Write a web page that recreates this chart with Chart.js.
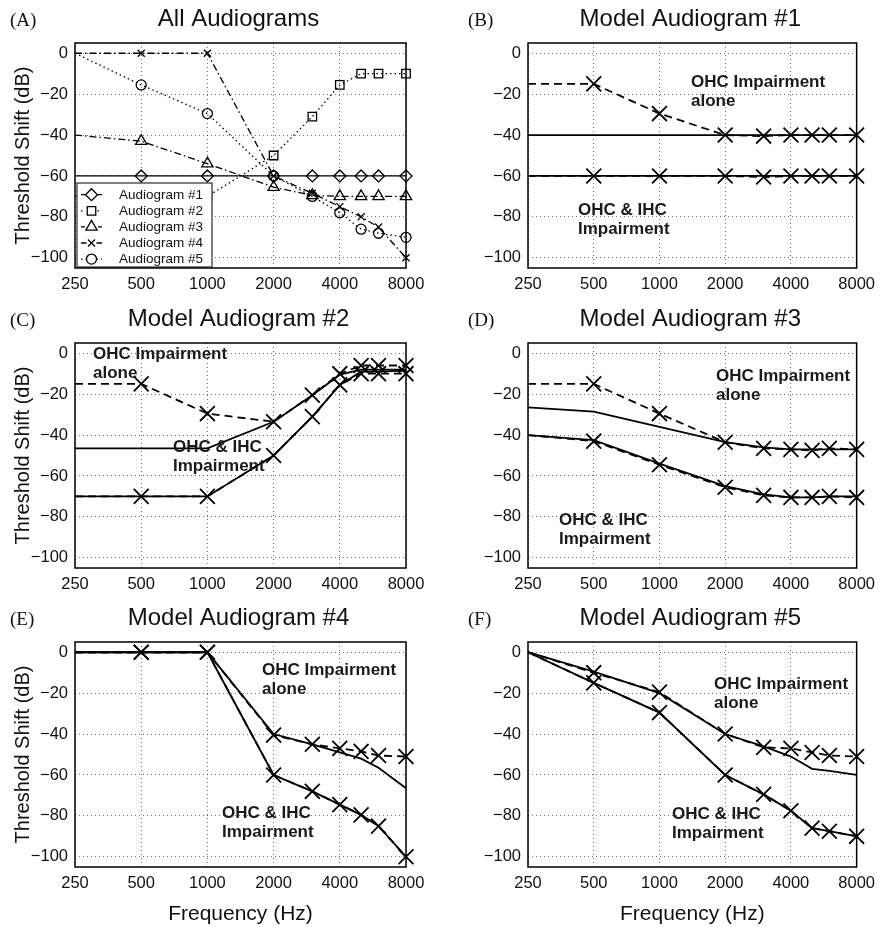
<!DOCTYPE html>
<html>
<head>
<meta charset="utf-8">
<title>Model Audiograms</title>
<script src="https://cdn.jsdelivr.net/npm/chart.js@4.4.1/dist/chart.umd.min.js"></script>
<style>
  html, body { margin: 0; padding: 0; background: #fff; }
  #figure { position: relative; width: 882px; height: 927px; }
  #figure canvas { position: absolute; }
</style>
</head>
<body>
<div id="figure">
  <canvas id="panelA" width="441" height="300" style="left:0;top:0"></canvas>
  <canvas id="panelB" width="441" height="300" style="left:441px;top:0"></canvas>
  <canvas id="panelC" width="441" height="300" style="left:0;top:300px"></canvas>
  <canvas id="panelD" width="441" height="300" style="left:441px;top:300px"></canvas>
  <canvas id="panelE" width="441" height="327" style="left:0;top:600px"></canvas>
  <canvas id="panelF" width="441" height="327" style="left:441px;top:600px"></canvas>
</div>
<script>
const freqs = [250, 500, 1000, 2000, 3000, 4000, 5000, 6000, 8000];
const freqTicks = [250, 500, 1000, 2000, 4000, 8000];
const dbTicks = [-100, -80, -60, -40, -20, 0];

// (A) all audiograms
const audiogram1 = [-60, -60, -60, -60, -60, -60, -60, -60, -60];
const audiogram2 = [-70, -70, -70, -50, -31, -15.5, -10, -10, -10];
const audiogram3 = [-40, -43, -54, -65.5, -69.5, -70, -70, -70, -70];
const audiogram4 = [0, 0, 0, -60, -68.5, -75, -80, -85, -100];
const audiogram5 = [0, -15.5, -29.5, -60, -70, -78, -86, -88, -90];

// (B)-(F) measured (dashed, x) and model (solid) curves
const model1OhcMeasured = [-15, -15, -29.5, -40, -40.5, -40, -40, -40, -40];
const model1OhcFit = [-40, -40, -40, -40, -40, -40, -40, -40, -40];
const model1TotalMeasured = [-60, -60, -60, -60, -60.5, -60, -60, -60, -60];
const model1TotalFit = [-60, -60, -60, -60, -60, -60, -60, -60, -60];

const model2OhcMeasured = [-15, -15, -29.5, -33.5, -20.5, -10, -6, -6, -6];
const model2OhcFit = [-46.5, -46.5, -46.5, -33.5, -20.5, -10.5, -8, -8, -8];
const model2TotalMeasured = [-70, -70, -70, -50, -31, -15.5, -10, -10, -10];
const model2TotalFit = [-70, -70, -70, -50, -31, -15.5, -9, -9, -8.5];

const model3OhcMeasured = [-15, -15, -29.5, -43.5, -46.5, -47, -47.5, -46.5, -47];
const model3OhcFit = [-26.5, -28.5, -36, -43.5, -46, -47, -47, -47, -47];
const model3TotalMeasured = [-40, -43, -54.5, -65.5, -69.5, -70.5, -70.5, -70, -70.5];
const model3TotalFit = [-40, -42.5, -54, -65, -69, -70.5, -70.5, -70, -70];

const model4OhcMeasured = [0, 0, 0, -40.5, -45, -47, -48.5, -50.5, -51];
const model4OhcFit = [0, 0, 0, -40, -45, -49, -52, -56.5, -66.5];
const model4TotalMeasured = [0, 0, 0, -60, -68, -74.5, -79.5, -85, -100];
const model4TotalFit = [0, 0, 0, -60, -68, -74.5, -79.5, -85, -100];

const model5OhcMeasured = [0, -10, -19.5, -40, -46.5, -47, -49, -50.5, -51];
const model5OhcFit = [0, -9.5, -20, -40, -46, -51, -57, -58, -60];
const model5TotalMeasured = [0, -15, -29.5, -60, -69.5, -77.5, -86, -87.5, -90];
const model5TotalFit = [0, -15, -29.5, -60, -69.5, -77.5, -86, -87.5, -90];

const SANS = "'Liberation Sans', Arial, Helvetica, sans-serif";
const SERIF = "'Liberation Serif', 'Times New Roman', serif";
const DASHED = [8, 5];
const DOTTED = [1.5, 3];
const DASHDOT = [7, 3, 1.5, 3];

Chart.defaults.font.family = SANS;
Chart.defaults.color = "#111";

const toPoints = (values) => values.map((v, i) => ({ x: freqs[i], y: v }));
// no marker on the 250 Hz end point
const markerRadii = (r) => freqs.map((f) => (f === 250 ? 0 : r));

function line(values, opts) {
  return {
    label: opts.label || "",
    data: toPoints(values),
    borderColor: "#000",
    borderWidth: opts.width || 1.8,
    borderDash: opts.dash || [],
    pointStyle: opts.style || false,
    pointRadius: opts.style ? markerRadii(opts.radius) : 0,
    pointBorderColor: "#000",
    pointBorderWidth: opts.width || 1.8,
    pointBackgroundColor: "rgba(0,0,0,0)",
    tension: 0,
    fill: false,
    clip: false,
  };
}

function modelSets(ohcMeasured, ohcFit, totalMeasured, totalFit) {
  return [
    line(ohcMeasured, { dash: DASHED, style: "crossRot", radius: 10.5 }),
    line(ohcFit, {}),
    line(totalMeasured, { dash: DASHED, style: "crossRot", radius: 10.5 }),
    line(totalFit, {}),
  ];
}

const panels = {
  panelA: {
    letter: "(A)", title: "All Audiograms", col: 0, row: 0, yTitle: true,
    datasets: [
      line(audiogram1, { label: "Audiogram #1", width: 1.3, style: "rectRot", radius: 6 }),
      line(audiogram2, { label: "Audiogram #2", width: 1.3, dash: DOTTED, style: "rect", radius: 6 }),
      line(audiogram3, { label: "Audiogram #3", width: 1.3, dash: DASHDOT, style: "triangle", radius: 6.5 }),
      line(audiogram4, { label: "Audiogram #4", width: 1.3, dash: DASHDOT, style: "crossRot", radius: 5 }),
      line(audiogram5, { label: "Audiogram #5", width: 1.3, dash: DOTTED, style: "circle", radius: 5 }),
    ],
    legend: true,
    notes: [],
  },
  panelB: {
    letter: "(B)", title: "Model Audiogram #1", col: 1, row: 0,
    datasets: modelSets(model1OhcMeasured, model1OhcFit, model1TotalMeasured, model1TotalFit),
    notes: [
      { dx: 163, dy: 44, lines: ["OHC Impairment", "alone"] },
      { dx: 50, dy: 172, lines: ["OHC & IHC", "Impairment"] },
    ],
  },
  panelC: {
    letter: "(C)", title: "Model Audiogram #2", col: 0, row: 1, yTitle: true,
    datasets: modelSets(model2OhcMeasured, model2OhcFit, model2TotalMeasured, model2TotalFit),
    notes: [
      { dx: 18, dy: 16, lines: ["OHC Impairment", "alone"] },
      { dx: 98, dy: 109, lines: ["OHC & IHC", "Impairment"] },
    ],
  },
  panelD: {
    letter: "(D)", title: "Model Audiogram #3", col: 1, row: 1,
    datasets: modelSets(model3OhcMeasured, model3OhcFit, model3TotalMeasured, model3TotalFit),
    notes: [
      { dx: 188, dy: 38, lines: ["OHC Impairment", "alone"] },
      { dx: 31, dy: 182, lines: ["OHC & IHC", "Impairment"] },
    ],
  },
  panelE: {
    letter: "(E)", title: "Model Audiogram #4", col: 0, row: 2, yTitle: true, xTitle: true,
    datasets: modelSets(model4OhcMeasured, model4OhcFit, model4TotalMeasured, model4TotalFit),
    notes: [
      { dx: 187, dy: 33, lines: ["OHC Impairment", "alone"] },
      { dx: 147, dy: 176, lines: ["OHC & IHC", "Impairment"] },
    ],
  },
  panelF: {
    letter: "(F)", title: "Model Audiogram #5", col: 1, row: 2, xTitle: true,
    datasets: modelSets(model5OhcMeasured, model5OhcFit, model5TotalMeasured, model5TotalFit),
    notes: [
      { dx: 186, dy: 47, lines: ["OHC Impairment", "alone"] },
      { dx: 144, dy: 177, lines: ["OHC & IHC", "Impairment"] },
    ],
  },
};

function drawLegend(chart) {
  const { ctx, chartArea: a } = chart;
  const x0 = a.left + 2, y0 = a.top + 140, w = 135, h = 84;
  ctx.fillStyle = "#fff";
  ctx.fillRect(x0, y0, w, h);
  ctx.lineWidth = 1;
  ctx.strokeStyle = "#000";
  ctx.setLineDash([]);
  ctx.strokeRect(x0, y0, w, h);
  chart.data.datasets.forEach((ds, i) => {
    const y = y0 + 11.7 + i * 16.1;
    const mx = x0 + 14.5;
    const r = ds.pointRadius[1];
    ctx.strokeStyle = "#000";
    ctx.lineWidth = 1.3;
    ctx.setLineDash(ds.borderDash);
    ctx.beginPath();
    ctx.moveTo(x0 + 4, y);
    ctx.lineTo(mx - r, y);
    ctx.moveTo(mx + r, y);
    ctx.lineTo(x0 + 25, y);
    ctx.stroke();
    ctx.setLineDash([]);
    ctx.fillStyle = "rgba(0,0,0,0)";
    Chart.helpers.drawPoint(ctx, {
      pointStyle: ds.pointStyle,
      radius: r,
      rotation: 0,
      borderWidth: 1.3,
    }, mx, y);
    ctx.fillStyle = "#111";
    ctx.font = "13.5px " + SANS;
    ctx.textAlign = "left";
    ctx.textBaseline = "middle";
    ctx.fillText(ds.label, x0 + 42, y + 0.5);
  });
}

const decor = {
  id: "decor",
  afterDatasetsDraw(chart) {
    const p = panels[chart.canvas.id];
    const { ctx, chartArea: a } = chart;
    ctx.save();
    ctx.setLineDash([]);
    ctx.strokeStyle = "#000";
    ctx.lineWidth = 1.5;
    ctx.strokeRect(a.left, a.top, a.right - a.left, a.bottom - a.top);

    ctx.fillStyle = "#1a1a1a";
    ctx.font = "bold 17px " + SANS;
    ctx.textAlign = "left";
    ctx.textBaseline = "alphabetic";
    p.notes.forEach((n) => {
      n.lines.forEach((t, i) => ctx.fillText(t, a.left + n.dx, a.top + n.dy + i * 19));
    });

    if (p.legend) drawLegend(chart);

    ctx.fillStyle = "#111";
    ctx.textBaseline = "alphabetic";
    ctx.font = "24px " + SANS;
    ctx.textAlign = "center";
    ctx.fillText(p.title, (a.left + a.right) / 2 - 2, a.top - 17);
    ctx.font = "19px " + SERIF;
    ctx.textAlign = "left";
    ctx.fillText(p.letter, p.col === 0 ? 10 : 27, a.top - 17);
    ctx.restore();
  },
};

const fmtDb = (v) => (v < 0 ? "\u2212" + Math.abs(v) : String(v));

Object.keys(panels).forEach((id) => {
  const p = panels[id];
  const yWidth = p.col === 0 ? 75 : 87;
  const padRight = p.col === 0 ? 35 : 23;
  const padTop = p.row === 2 ? 42 : 43;
  const xHeight = p.row === 2 ? 60 : 32;

  new Chart(document.getElementById(id), {
    type: "line",
    data: { datasets: p.datasets },
    options: {
      responsive: false,
      animation: false,
      events: [],
      layout: { padding: { top: padTop, right: padRight, bottom: 0, left: 0 } },
      plugins: {
        legend: { display: false },
        tooltip: { enabled: false },
        title: { display: false },
      },
      scales: {
        x: {
          type: "logarithmic",
          min: 250,
          max: 8000,
          afterBuildTicks: (scale) => {
            scale.ticks = freqTicks.map((v) => ({ value: v }));
          },
          afterFit: (scale) => {
            scale.height = xHeight;
          },
          ticks: {
            autoSkip: false,
            maxRotation: 0,
            padding: 7,
            color: "#111",
            font: { size: 16.5 },
            callback: (v) => String(v),
          },
          grid: { color: "rgba(0,0,0,0.55)", lineWidth: 1, drawTicks: false, borderDash: [1, 3] },
          border: { display: false, dash: [1, 3] },
          title: {
            display: !!p.xTitle,
            text: "Frequency (Hz)",
            color: "#111",
            font: { size: 21 },
            padding: { top: 0, bottom: 0 },
          },
        },
        y: {
          type: "linear",
          min: -105,
          max: 5,
          afterBuildTicks: (scale) => {
            scale.ticks = dbTicks.map((v) => ({ value: v }));
          },
          afterFit: (scale) => {
            scale.width = yWidth;
          },
          ticks: {
            padding: 7,
            color: "#111",
            font: { size: 16.5 },
            callback: fmtDb,
          },
          grid: { color: "rgba(0,0,0,0.55)", lineWidth: 1, drawTicks: false, borderDash: [1, 3] },
          border: { display: false, dash: [1, 3] },
          title: {
            display: !!p.yTitle,
            text: "Threshold Shift (dB)",
            color: "#111",
            font: { size: 20 },
            padding: { top: 11, bottom: 0 },
          },
        },
      },
    },
    plugins: [decor],
  });
});
</script>
</body>
</html>
